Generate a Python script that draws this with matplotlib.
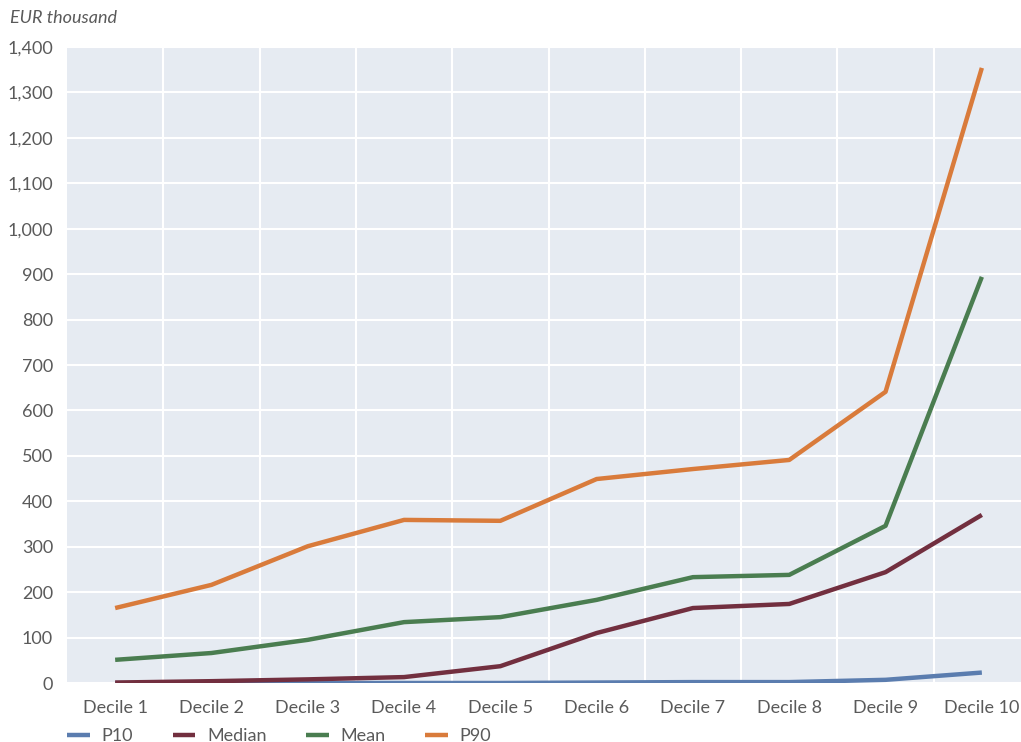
import numpy as np
import matplotlib
matplotlib.use('Agg')
import matplotlib.pyplot as plt

plt.rcParams['font.family'] = ['Lato', 'DejaVu Sans']

# 数据
deciles = ['Decile 1', 'Decile 2', 'Decile 3', 'Decile 4', 'Decile 5',
           'Decile 6', 'Decile 7', 'Decile 8', 'Decile 9', 'Decile 10']
p10 = [0, 0, 0, 0, 0, 1, 2, 2, 7, 23]
median = [1, 4, 8, 13, 37, 110, 165, 174, 244, 370]
mean = [51, 66, 95, 134, 145, 183, 233, 238, 346, 894]
p90 = [165, 216, 301, 359, 357, 449, 471, 491, 641, 1354]
yticks = list(range(0, 1401, 100))

colors = {
    'P10': '#5B7DAF',
    'Median': '#722F3F',
    'Mean': '#4A7D50',
    'P90': '#D97B3B',
}
text_color = '#5a5a5a'

fig = plt.figure(figsize=(10.21, 7.42), dpi=100)
ax = fig.add_axes([67 / 1021, 1 - 683 / 742, (1030 - 67) / 1021, (683 - 47) / 742])
ax.set_facecolor('#E6EBF2')

x = np.arange(len(deciles))
for name, vals in [('P10', p10), ('Median', median), ('Mean', mean), ('P90', p90)]:
    ax.plot(x, vals, color=colors[name], linewidth=3.2, label=name,
            solid_capstyle='butt', solid_joinstyle='round')

ax.set_xlim(-0.5, len(deciles) - 0.5)
ax.set_ylim(0, 1400)
ax.set_xticks(x)
ax.set_xticklabels(deciles)
ax.set_xticks(x[:-1] + 0.5, minor=True)
ax.set_yticks(yticks)
ax.set_yticklabels([f'{v:,}' for v in yticks])

ax.grid(True, which='minor', axis='x', color='white', linewidth=1.5)
ax.grid(True, which='major', axis='y', color='white', linewidth=1.5)
ax.set_axisbelow(True)
for s in ax.spines.values():
    s.set_visible(False)
ax.tick_params(axis='both', which='both', length=0, labelsize=13,
               labelcolor=text_color)
ax.tick_params(axis='x', pad=12)
ax.tick_params(axis='y', pad=10)

fig.text(10 / 1021, 1 - 18 / 742, 'EUR thousand', fontsize=13, style='italic',
         color=text_color, ha='left', va='center')

leg = fig.legend(loc='center left', bbox_to_anchor=(60 / 1021, 1 - 736 / 742),
                 ncol=4, frameon=False, fontsize=13, handlelength=1.25,
                 handletextpad=0.65, columnspacing=2.2, borderaxespad=0)
for t in leg.get_texts():
    t.set_color(text_color)

plt.savefig('out.png', dpi=100)
plt.close()
